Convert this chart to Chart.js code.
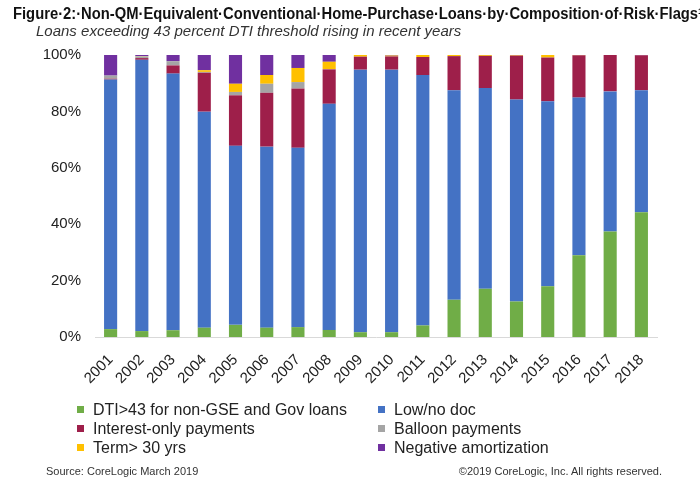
<!DOCTYPE html>
<html>
<head>
<meta charset="utf-8">
<script src="https://cdn.jsdelivr.net/npm/chart.js@4/dist/chart.umd.min.js"></script>
<style>
  html, body { margin: 0; padding: 0; background: #fff; }
  #wrap { position: relative; width: 700px; height: 486px; overflow: hidden; font-family: "Liberation Sans", Arial, sans-serif; }
  #cv { position: absolute; left: 0; top: 0; }
  .title { position: absolute; left: 13px; top: 5px; font-weight: bold; font-size: 16px; color: #111; white-space: nowrap; transform-origin: 0 0; }
  .sub { position: absolute; left: 36px; top: 22px; font-style: italic; font-size: 15px; color: #333; white-space: nowrap; }
  .leg { position: absolute; font-size: 16px; color: #222; white-space: nowrap; line-height: 19px; }
  .leg i { position: absolute; left: -16px; top: 6px; width: 7px; height: 7px; }
  .foot { position: absolute; top: 465px; font-size: 11px; color: #333; white-space: nowrap; }
</style>
</head>
<body>
<div id="wrap">
  <canvas id="cv" width="700" height="486"></canvas>
  <div class="title" id="title">Figure·2:·Non-QM·Equivalent·Conventional·Home-Purchase·Loans·by·Composition·of·Risk·Flags¹</div>
  <div class="sub">Loans exceeding 43 percent DTI threshold rising in recent years</div>
  <div id="legend"></div>
  <div class="foot" style="left:46px">Source: CoreLogic March 2019</div>
  <div class="foot" style="right:38px">©2019 CoreLogic, Inc. All rights reserved.</div>
</div>
<script>
const years = ["2001","2002","2003","2004","2005","2006","2007","2008","2009","2010","2011","2012","2013","2014","2015","2016","2017","2018"];
const dtiOver43 = [2.8, 2.1, 2.4, 3.3, 4.3, 3.3, 3.5, 2.5, 1.7, 1.7, 4.1, 13.2, 17.1, 12.6, 18.0, 29.0, 37.4, 44.2];
const lowNoDoc = [88.5, 96.2, 91.0, 76.6, 63.5, 64.2, 63.6, 80.2, 93.1, 93.1, 88.8, 74.3, 71.2, 71.6, 65.6, 55.9, 49.7, 43.3];
const interestOnly = [0.3, 0.6, 2.9, 13.8, 17.9, 19.1, 21.0, 12.2, 4.6, 4.7, 6.4, 12.1, 11.4, 15.6, 15.5, 15.0, 12.9, 12.4];
const balloon = [1.1, 0.6, 1.5, 0.3, 1.2, 3.2, 2.3, 0.1, 0, 0, 0, 0, 0, 0, 0, 0, 0, 0];
const termOver30 = [0, 0.1, 0, 0.6, 2.9, 3.1, 5.0, 2.6, 0.6, 0.3, 0.7, 0.4, 0.3, 0.2, 0.9, 0.1, 0, 0];
const negAmort = [7.3, 0.4, 2.2, 5.4, 10.2, 7.1, 4.6, 2.4, 0, 0.2, 0, 0, 0, 0, 0, 0, 0, 0.1];
const yTicks = [0, 20, 40, 60, 80, 100];

const series = [
  { label: "DTI>43 for non-GSE and Gov loans", data: dtiOver43, color: "#70ad47" },
  { label: "Low/no doc", data: lowNoDoc, color: "#4472c4" },
  { label: "Interest-only payments", data: interestOnly, color: "#9e1f4a" },
  { label: "Balloon payments", data: balloon, color: "#a5a5a5" },
  { label: "Term> 30 yrs", data: termOver30, color: "#ffc000" },
  { label: "Negative amortization", data: negAmort, color: "#7030a0" }
];

// fit the title to the width it takes in the reference
const t = document.getElementById('title');
const tw = t.getBoundingClientRect().width;
t.style.transform = 'scaleX(' + (690 / tw) + ')';

// legend (two columns, three rows)
const legendPos = [[93,400],[394,400],[93,419],[394,419],[93,438],[394,438]];
const lg = document.getElementById('legend');
series.forEach((s, k) => {
  const d = document.createElement('div');
  d.className = 'leg';
  d.style.left = legendPos[k][0] + 'px';
  d.style.top = legendPos[k][1] + 'px';
  d.innerHTML = '<i style="background:' + s.color + '"></i>' + s.label;
  lg.appendChild(d);
});

new Chart(document.getElementById('cv'), {
  type: 'bar',
  data: {
    labels: years,
    datasets: series.map(s => ({
      label: s.label, data: s.data, backgroundColor: s.color,
      barPercentage: 0.42, categoryPercentage: 1.0, borderWidth: 0
    }))
  },
  options: {
    responsive: false,
    animation: false,
    layout: { padding: { top: 55, right: 43, left: 0, bottom: 0 } },
    plugins: { legend: { display: false }, tooltip: { enabled: false }, title: { display: false } },
    scales: {
      x: {
        stacked: true,
        grid: { display: false, drawTicks: false },
        border: { display: true, color: "#d9d9d9", width: 1 },
        ticks: { color: "#222", font: { family: "'Liberation Sans', Arial, sans-serif", size: 15 }, maxRotation: 45, minRotation: 45, padding: 14, autoSkip: false },
        afterFit: (s) => { s.height = 149; }
      },
      y: {
        stacked: true,
        min: 0, max: 100,
        afterBuildTicks: (s) => { s.ticks = yTicks.map(v => ({ value: v })); },
        grid: { display: false, drawTicks: false },
        border: { display: false },
        ticks: { color: "#222", font: { family: "'Liberation Sans', Arial, sans-serif", size: 15 }, padding: 14, callback: v => v + '%' },
        afterFit: (s) => { s.width = 95; }
      }
    }
  }
});
</script>
</body>
</html>
